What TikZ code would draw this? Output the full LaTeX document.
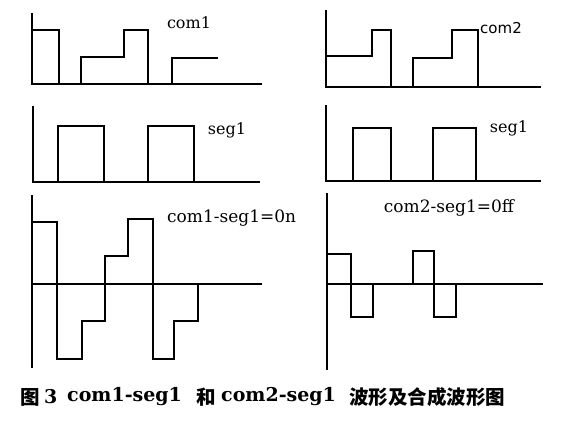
\documentclass[tikz,border=0pt]{standalone}
\usepackage{fontspec}
\setmainfont{DejaVu Serif}
\newfontfamily\cjk{Noto Sans CJK SC}
\newfontfamily\lblsans{DejaVu Sans}
\begin{document}
\begin{tikzpicture}[x=1pt,y=-1pt,
  wave/.style={line width=1.7pt,line join=miter},
  axisline/.style={line width=1.7pt},
  lbl/.style={inner sep=0pt,font=\fontsize{16}{16}\selectfont},
  lblbig/.style={inner sep=0pt,font=\fontsize{17}{17}\selectfont},
  capcjk/.style={inner sep=0pt,anchor=west,font=\cjk\fontsize{19.5}{19.5}\selectfont\bfseries},
  caplat/.style={inner sep=0pt,anchor=west,font=\fontsize{19}{19}\selectfont\bfseries}]
\useasboundingbox (0,0) rectangle (565,428);
% panel 1: com1
\draw[axisline] (32,13) -- (32,84) -- (262,84);
\draw[wave] (32,30) -- (59,30) -- (59,84);
\draw[wave] (81,84) -- (81,57) -- (124,57) -- (124,30) -- (148,30) -- (148,84);
\draw[wave] (172,84) -- (172,58) -- (218,58);
\node[lbl] (l1) at (189,23) {com1};
% panel 2: com2
\draw[axisline] (326,10) -- (326,87) -- (541,87);
\draw[wave] (326,56) -- (372,56) -- (372,30) -- (391,30) -- (391,87);
\draw[wave] (413,87) -- (413,58) -- (452,58) -- (452,30) -- (478,30) -- (478,87);
\node[inner sep=0pt,font=\lblsans\fontsize{15}{15}\selectfont] (l2) at (501,28) {com2};
% panel 3: seg1
\draw[axisline] (33,106) -- (33,182) -- (260,182);
\draw[wave] (58,182) -- (58,126) -- (104,126) -- (104,182);
\draw[wave] (148,182) -- (148,126) -- (194,126) -- (194,182);
\node[lbl] (l3) at (227,130) {seg1};
% panel 4: seg1
\draw[axisline] (326,105) -- (326,181) -- (541,181);
\draw[wave] (353,181) -- (353,128) -- (391,128) -- (391,181);
\draw[wave] (433,181) -- (433,128) -- (476,128) -- (476,181);
\node[lbl] (l4) at (509,128) {seg1};
% panel 5: com1-seg1
\draw[axisline] (32,195) -- (32,368);
\draw[axisline] (32,284) -- (262,284);
\draw[wave] (32,222) -- (57,222) -- (57,359) -- (82,359) -- (82,321) -- (105,321) -- (105,256) -- (128,256) -- (128,219) -- (153,219) -- (153,359) -- (174,359) -- (174,321) -- (198,321) -- (198,284);
\node[lblbig,anchor=west] (l5) at (167,218) {com1-seg1=0n};
% panel 6: com2-seg1
\draw[axisline] (327,193) -- (327,370);
\draw[axisline] (327,284) -- (543,284);
\draw[wave] (327,254) -- (351,254) -- (351,317) -- (373,317) -- (373,284);
\draw[wave] (413,284) -- (413,251) -- (434,251) -- (434,317) -- (456,317) -- (456,284);
\node[lblbig] (l6) at (449,208) {com2-seg1=0ff};
% caption
\node[capcjk] (c1) at (20,397) {图};
\node[caplat] (c2) at (44,397) {3};
\node[caplat] (c3) at (67,397) {com1-seg1};
\node[capcjk] (c4) at (196,397) {和};
\node[caplat] (c5) at (221,397) {com2-seg1};
\node[capcjk] (c6) at (349,397) {波形及合成波形图};
\end{tikzpicture}
\end{document}
